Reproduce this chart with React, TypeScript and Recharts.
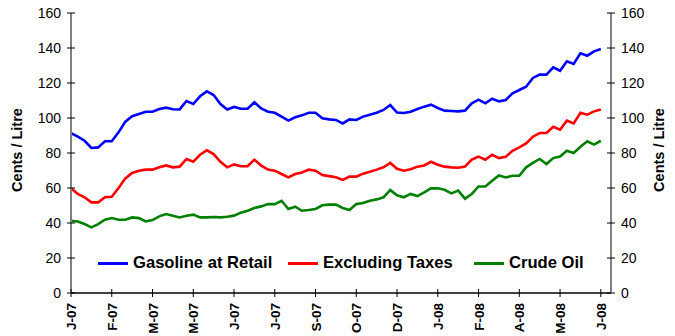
import React from "react";
import { Line, LineChart, XAxis, YAxis } from "recharts";

// Weekly prices, cents per litre, Jan 2007 – Jul 2008.
const tickLabels = [
  "J-07", "F-07", "M-07", "M-07", "J-07", "J-07", "S-07",
  "O-07", "D-07", "J-08", "F-08", "A-08", "M-08", "J-08",
];

const gasoline = [
  91.4, 89.3, 87, 82.9, 83.2, 86.7, 86.7, 91.8, 97.9, 101, 102.3, 103.6, 103.6, 105.1, 105.9, 105,
  104.9, 109.7, 108, 112.4, 115.2, 113.1, 108, 104.9, 106.3, 105.3, 105.3, 109, 105.5, 103.6, 103, 100.8,
  98.5, 100.4, 101.5, 103, 103, 99.8, 99.2, 98.9, 96.9, 99.2, 98.9, 100.8, 101.9, 103, 104.6, 107.4,
  103.1, 102.9, 103.6, 105.1, 106.5, 107.6, 105.7, 104.2, 104, 103.8, 104.2, 108.4, 110.5, 108.4, 111, 109.5,
  110.3, 114.1, 116, 117.9, 122.9, 124.8, 124.8, 129, 127, 132.4, 130.9, 137, 135.6, 138.1, 139.4,
];

const excludingTaxes = [
  59.8, 56.6, 54.7, 51.8, 51.8, 54.7, 55, 60, 65.5, 68.6, 69.9, 70.5, 70.5, 71.8, 72.9, 71.8,
  72.2, 76.6, 75, 79, 81.5, 79.4, 75, 71.8, 73.5, 72.4, 72.4, 76.2, 72.8, 70.5, 69.9, 68,
  66.1, 68, 68.9, 70.5, 69.9, 67.4, 66.8, 66.1, 64.6, 66.5, 66.5, 68.2, 69.3, 70.5, 71.8, 74.3,
  71, 69.9, 70.7, 72.2, 72.9, 75, 73.3, 72.2, 71.8, 71.6, 72.2, 76.2, 77.9, 76.2, 79, 77.1,
  77.8, 81.3, 83.2, 85.5, 89.3, 91.4, 91.4, 95, 93.3, 98.5, 96.9, 103, 101.9, 103.8, 104.9,
];

const crudeOil = [
  41.3, 40.9, 39.4, 37.5, 39.4, 41.9, 42.8, 41.9, 41.9, 43.2, 42.8, 40.9, 41.7, 43.8, 45.1, 44.2,
  43.2, 44.2, 44.8, 43.2, 43.2, 43.4, 43.2, 43.6, 44.2, 45.9, 47, 48.6, 49.5, 50.8, 50.8, 52.7,
  48, 49.3, 47, 47.4, 48, 50.1, 50.5, 50.5, 48.6, 47.4, 50.8, 51.4, 52.7, 53.5, 54.7, 58.8,
  55.8, 54.7, 56.6, 55.4, 57.5, 59.8, 59.8, 59, 56.9, 58.5, 53.9, 56.6, 60.9, 60.9, 64.2, 67.2,
  66, 67, 67, 71.8, 74.3, 76.6, 73.7, 77.1, 78, 81.3, 80, 83.6, 86.7, 84.8, 87,
];

const yTicks = [0, 20, 40, 60, 80, 100, 120, 140, 160];
const weeksPerLabel = 6;

const data = gasoline.map((g, i) => ({
  week: i,
  gasoline: g,
  excludingTaxes: excludingTaxes[i],
  crudeOil: crudeOil[i],
}));

const xTicks = tickLabels.map((_, i) => i * weeksPerLabel);

const FONT = "Arial, 'Liberation Sans', sans-serif";

function XTick(props: any) {
  const { x, y, payload } = props;
  const label = tickLabels[Math.round(payload.value / weeksPerLabel)];
  return (
    <g>
      <line x1={x} x2={x} y1={y - 4} y2={y + 4} stroke="#000" strokeWidth={1} />
      <text
        x={0}
        y={0}
        transform={`translate(${x + 5},${y + 10}) rotate(-90)`}
        textAnchor="end"
        fontFamily={FONT}
        fontWeight="bold"
        fontSize={13.5}
        fill="#000"
      >
        {label}
      </text>
    </g>
  );
}

function LeftTick(props: any) {
  const { x, y, payload } = props;
  return (
    <g>
      <line x1={x - 4} x2={x + 4} y1={y} y2={y} stroke="#000" strokeWidth={1} />
      <text x={x - 10} y={y + 5} textAnchor="end" fontFamily={FONT} fontSize={14} fill="#000">
        {payload.value}
      </text>
    </g>
  );
}

function RightTick(props: any) {
  const { x, y, payload } = props;
  return (
    <g>
      <line x1={x - 4} x2={x + 4} y1={y} y2={y} stroke="#000" strokeWidth={1} />
      <text x={x + 10} y={y + 5} textAnchor="start" fontFamily={FONT} fontSize={14} fill="#000">
        {payload.value}
      </text>
    </g>
  );
}

const axisTitle = (cx: number) => () => (
  <text
    x={0}
    y={0}
    transform={`translate(${cx},150) rotate(-90)`}
    textAnchor="middle"
    fontFamily={FONT}
    fontWeight="bold"
    fontSize={14.5}
    fill="#000"
  >
    Cents / Litre
  </text>
);

const legendItems = [
  { name: "Gasoline at Retail", color: "#0000ff", left: 98 },
  { name: "Excluding Taxes", color: "#ff0000", left: 288 },
  { name: "Crude Oil", color: "#008000", left: 474 },
];

export default function App() {
  return (
    <div style={{ position: "relative", width: 675, height: 336, overflow: "hidden", background: "#fff" }}>
      <style>{"body{margin:0}"}</style>
      <LineChart
        width={675}
        height={336}
        data={data}
        margin={{ top: 13, right: 0, bottom: 0, left: 0 }}
      >
        <XAxis
          dataKey="week"
          type="number"
          domain={[0, 79.5]}
          ticks={xTicks}
          interval={0}
          height={43}
          tickSize={0}
          tickMargin={0}
          tickLine={false}
          tick={<XTick />}
          axisLine={{ stroke: "#000", strokeWidth: 1.5 }}
        />
        <YAxis
          yAxisId="left"
          domain={[0, 160]}
          ticks={yTicks}
          interval={0}
          width={71}
          tickSize={0}
          tickMargin={0}
          tickLine={false}
          tick={<LeftTick />}
          axisLine={{ stroke: "#808080", strokeWidth: 2 }}
          label={{ content: axisTitle(22) }}
        />
        <YAxis
          yAxisId="right"
          orientation="right"
          domain={[0, 160]}
          ticks={yTicks}
          interval={0}
          width={64}
          tickSize={0}
          tickMargin={0}
          tickLine={false}
          tick={<RightTick />}
          axisLine={{ stroke: "#808080", strokeWidth: 2 }}
          label={{ content: axisTitle(664) }}
        />
        <Line
          yAxisId="left"
          dataKey="gasoline"
          stroke="#0000ff"
          strokeWidth={2.6}
          dot={false}
          isAnimationActive={false}
        />
        <Line
          yAxisId="left"
          dataKey="excludingTaxes"
          stroke="#ff0000"
          strokeWidth={2.6}
          dot={false}
          isAnimationActive={false}
        />
        {/* same 0–160 scale on both sides, so crude can sit on the right axis */}
        <Line
          yAxisId="right"
          dataKey="crudeOil"
          stroke="#008000"
          strokeWidth={2.6}
          dot={false}
          isAnimationActive={false}
        />
      </LineChart>
      {legendItems.map((item) => (
        <div
          key={item.name}
          style={{
            position: "absolute",
            left: item.left,
            top: 252,
            height: 22,
            display: "flex",
            alignItems: "center",
            fontFamily: FONT,
            fontWeight: "bold",
            fontSize: 16.6,
            whiteSpace: "nowrap",
          }}
        >
          <span style={{ display: "inline-block", width: 30, height: 3, background: item.color, marginRight: 5 }} />
          {item.name}
        </div>
      ))}
    </div>
  );
}
